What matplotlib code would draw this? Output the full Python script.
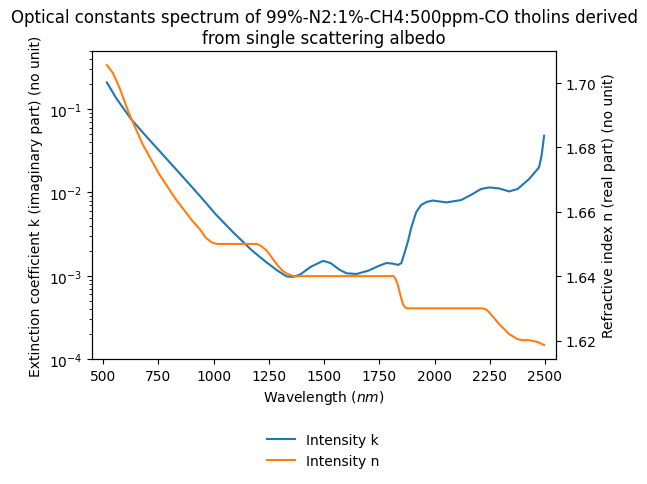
import numpy as np
import matplotlib
matplotlib.use('Agg')
import matplotlib.pyplot as plt

# extinction coefficient k (imaginary part)
wl_k = [517, 560, 626, 690, 754, 830, 904, 960, 1009, 1090, 1175, 1241, 1290, 1331, 1360,
        1391, 1440, 1496, 1530, 1570, 1602, 1647, 1700, 1750, 1782, 1810, 1835, 1850,
        1865, 1880, 1895, 1917, 1940, 1965, 1992, 2053, 2120, 2173, 2210, 2248, 2290,
        2338, 2376, 2428, 2473, 2485, 2496]
k_vals = [0.21, 0.135, 0.0766, 0.049, 0.0318, 0.019, 0.0115, 0.0078, 0.0055, 0.0033,
          0.0020, 0.00144, 0.00115, 0.00098, 0.00097, 0.00103, 0.00128, 0.00151, 0.00142,
          0.00118, 0.00107, 0.00105, 0.00115, 0.00132, 0.00142, 0.00140, 0.00135, 0.00142,
          0.0019, 0.0026, 0.0038, 0.0058, 0.0071, 0.0077, 0.0080, 0.0076, 0.0081, 0.0096,
          0.0110, 0.0115, 0.0112, 0.0103, 0.0110, 0.0145, 0.020, 0.028, 0.048]

# refractive index n (real part)
wl_n = [517, 544, 574, 619, 679, 754, 829, 904, 940, 964, 985, 1002, 1020, 1196, 1215,
        1241, 1286, 1310, 1331, 1360, 1815, 1825, 1835, 1848, 1857, 1868, 1880, 2218,
        2235, 2248, 2293, 2338, 2376, 2400, 2428, 2464, 2496]
n_vals = [1.7056, 1.7032, 1.6986, 1.6903, 1.6810, 1.6717, 1.6639, 1.6572, 1.6544, 1.6520,
          1.6508, 1.6502, 1.6500, 1.6500, 1.6494, 1.6479, 1.6437, 1.6418, 1.6408, 1.6400,
          1.6400, 1.6390, 1.6370, 1.6335, 1.6313, 1.6302, 1.6300, 1.6300, 1.6296, 1.6287,
          1.6251, 1.6220, 1.6204, 1.6201, 1.6201, 1.6196, 1.6186]

fig = plt.figure(figsize=(6.47, 4.85), dpi=100)
ax = fig.add_axes([0.1422, 0.2577, 0.7172, 0.6351])
ax2 = ax.twinx()

l1, = ax.plot(wl_k, k_vals, color='tab:blue', label='Intensity k')
l2, = ax2.plot(wl_n, n_vals, color='tab:orange', label='Intensity n')

ax.set_yscale('log')
ax.set_ylim(1e-4, 0.5)
ax.set_xlim(450, 2550)
ax.set_xticks([500, 750, 1000, 1250, 1500, 1750, 2000, 2250, 2500])
ax2.set_yticks([1.62, 1.64, 1.66, 1.68, 1.70])

ax.set_xlabel('Wavelength ($nm$)')
ax.set_ylabel('Extinction coefficient k (imaginary part) (no unit)')
ax2.set_ylabel('Refractive index n (real part) (no unit)')
ax.set_title('Optical constants spectrum of 99%-N2:1%-CH4:500ppm-CO tholins derived\n'
             'from single scattering albedo')

fig.legend(handles=[l1, l2], loc='center', bbox_to_anchor=(0.5, 0.07), frameon=False)

fig.savefig('out.png', dpi=100)
